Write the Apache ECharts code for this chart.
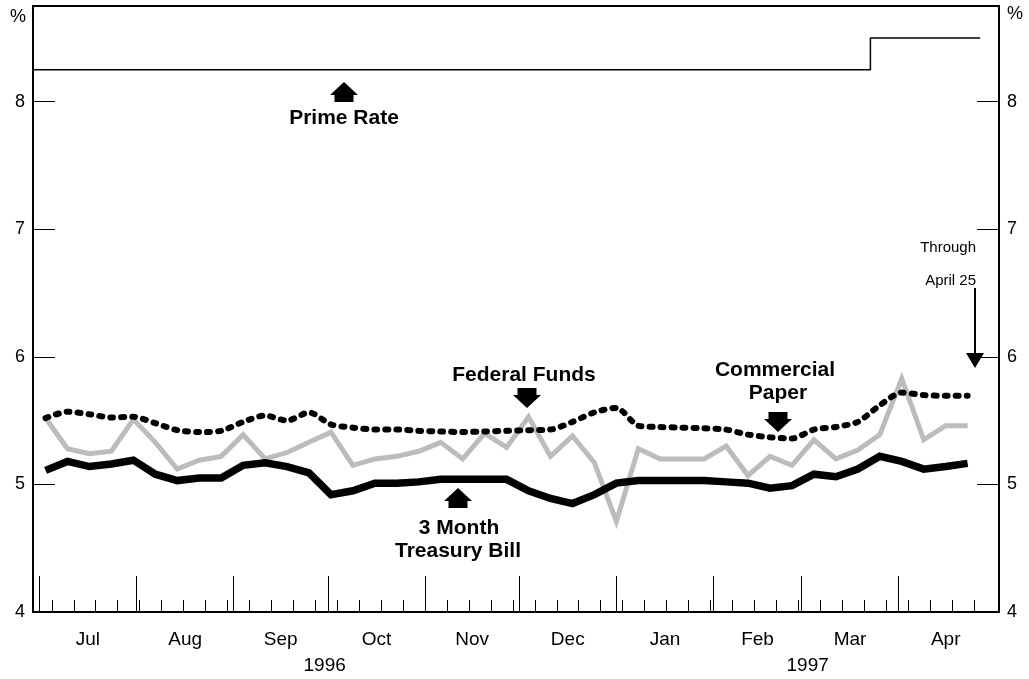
<!DOCTYPE html>
<html>
<head>
<meta charset="utf-8">
<script src="https://cdn.jsdelivr.net/npm/echarts@6/dist/echarts.min.js"></script>
<style>
html,body{margin:0;padding:0;background:#fff;}
#chart{width:1029px;height:679px;}
</style>
</head>
<body>
<div id="chart"></div>
<script>
// ---- Data (weekly averages, weeks ending Wednesday) ----
const dates = [
  '1996-07-03','1996-07-10','1996-07-17','1996-07-24','1996-07-31',
  '1996-08-07','1996-08-14','1996-08-21','1996-08-28',
  '1996-09-04','1996-09-11','1996-09-18','1996-09-25',
  '1996-10-02','1996-10-09','1996-10-16','1996-10-23','1996-10-30',
  '1996-11-06','1996-11-13','1996-11-20','1996-11-27',
  '1996-12-04','1996-12-11','1996-12-18','1996-12-25',
  '1997-01-01','1997-01-08','1997-01-15','1997-01-22','1997-01-29',
  '1997-02-05','1997-02-12','1997-02-19','1997-02-26',
  '1997-03-05','1997-03-12','1997-03-19','1997-03-26',
  '1997-04-02','1997-04-09','1997-04-16','1997-04-23'
];
const treasuryBill = [5.11,5.18,5.14,5.16,5.19,5.08,5.03,5.05,5.05,5.15,5.17,5.14,5.09,4.92,4.95,5.01,5.01,5.02,5.04,5.04,5.04,5.04,4.95,4.89,4.85,4.92,5.01,5.03,5.03,5.03,5.03,5.02,5.01,4.97,4.99,5.08,5.06,5.12,5.22,5.18,5.12,5.14,5.165];
const federalFunds = [5.52,5.28,5.24,5.26,5.51,5.33,5.12,5.19,5.22,5.39,5.20,5.25,5.33,5.41,5.15,5.20,5.22,5.26,5.33,5.20,5.40,5.29,5.53,5.22,5.38,5.17,4.71,5.28,5.20,5.20,5.20,5.30,5.07,5.22,5.15,5.35,5.20,5.27,5.39,5.83,5.35,5.46,5.46];
const commercialPaper = [5.52,5.57,5.55,5.525,5.53,5.48,5.425,5.41,5.42,5.49,5.54,5.50,5.565,5.47,5.445,5.43,5.43,5.42,5.415,5.41,5.415,5.42,5.425,5.43,5.49,5.565,5.60,5.46,5.45,5.445,5.44,5.43,5.39,5.37,5.36,5.43,5.45,5.49,5.62,5.72,5.70,5.695,5.695];
const primeDates = ['1996-06-29','1997-03-23','1997-04-27'];
const primeRate = [8.25, 8.5, 8.5];

// ---- Axis labels / ticks ----
const axisStart = '1996-06-29';
const axisEnd = '1997-05-03';
const monthStarts = ['1996-07-01','1996-08-01','1996-09-01','1996-10-01','1996-11-01','1996-12-01','1997-01-01','1997-02-01','1997-03-01','1997-04-01','1997-05-01'];
const monthNames = ['Jul','Aug','Sep','Oct','Nov','Dec','Jan','Feb','Mar','Apr'];
const yearStarts = ['1997-01-01'];
const yearNames = ['1996','1997'];
const firstFriday = '1996-07-05';
const lastFriday = '1997-04-25';
const yTicks = [4,5,6,7,8];

// ---- Build ----
const T = s => new Date(s + 'T00:00:00Z').getTime();
const DAY = 86400000;
const xMin = T(axisStart), xMax = T(axisEnd);
const FONT = '"Liberation Sans", Arial, Helvetica, sans-serif';

const fridays = [];
for (let t = T(firstFriday); t <= T(lastFriday); t += 7 * DAY) fridays.push(t);

// month boundary ticks (one per labelled month)
const monthTickVals = monthStarts.slice(0, monthNames.length).map(T);
const monthMids = [], monthLabelMap = {};
for (let i = 0; i < monthNames.length; i++) {
  const a = Math.max(T(monthStarts[i]), xMin), b = Math.min(T(monthStarts[i + 1]), xMax);
  const m = (a + b) / 2; monthMids.push(m); monthLabelMap[m] = monthNames[i];
}
const yb = [xMin].concat(yearStarts.map(T)).concat([xMax]);
const yearMids = [], yearLabelMap = {};
for (let i = 0; i < yearNames.length; i++) {
  const m = (yb[i] + yb[i + 1]) / 2; yearMids.push(m); yearLabelMap[m] = yearNames[i];
}

const pts = (ds, vs) => ds.map((d, i) => [T(d), vs[i]]);

const chart = echarts.init(document.getElementById('chart'), null, {renderer: 'canvas'});

const blk = '#000';
const yAxisBase = (pos) => ({
  type: 'value', position: pos, min: 4, max: 8.75,
  axisLine: {show: true, lineStyle: {color: blk, width: 2}},
  axisTick: {show: true, inside: true, length: 22, customValues: yTicks, lineStyle: {color: blk, width: 1}},
  axisLabel: {customValues: yTicks, color: blk, fontSize: 18, fontFamily: FONT, margin: 8},
  splitLine: {show: false}
});

const textEl = (x, y, text, size, weight, align) => ({
  type: 'text', x: x, y: y, z: 100,
  style: {text: text, fill: blk, fontSize: size, fontWeight: weight, fontFamily: FONT,
          align: align || 'center', verticalAlign: 'middle', textAlign: align || 'center', textVerticalAlign: 'middle'}
});
const upArrow = (x, y) => ({type: 'polygon', z: 100, shape: {points: [
  [x, y], [x + 14, y + 13], [x + 9.5, y + 13], [x + 9.5, y + 20], [x - 9.5, y + 20], [x - 9.5, y + 13], [x - 14, y + 13]]},
  style: {fill: blk}});
const downArrow = (x, y) => ({type: 'polygon', z: 100, shape: {points: [
  [x, y], [x + 14, y - 13], [x + 9.5, y - 13], [x + 9.5, y - 20], [x - 9.5, y - 20], [x - 9.5, y - 13], [x - 14, y - 13]]},
  style: {fill: blk}});

const option = {
  backgroundColor: '#fff',
  animation: false,
  grid: {left: 33, right: 30, top: 6, bottom: 67, containLabel: false, outerBoundsMode: 'none'},
  xAxis: [
    {
      type: 'value', position: 'bottom', min: xMin, max: xMax,
      axisLine: {show: true, lineStyle: {color: blk, width: 2}},
      axisTick: {show: true, inside: true, length: 12, customValues: fridays, lineStyle: {color: blk, width: 1}},
      axisLabel: {customValues: monthMids, formatter: v => monthLabelMap[v] || '', color: blk, fontSize: 19, fontFamily: FONT, margin: 18},
      splitLine: {show: false}
    },
    {
      type: 'value', position: 'bottom', min: xMin, max: xMax,
      axisLine: {show: false},
      axisTick: {show: true, inside: true, length: 36, customValues: monthTickVals, lineStyle: {color: blk, width: 1}},
      axisLabel: {customValues: yearMids, formatter: v => yearLabelMap[v] || '', color: blk, fontSize: 19, fontFamily: FONT, margin: 44},
      splitLine: {show: false}
    },
    {
      type: 'value', position: 'top', min: xMin, max: xMax,
      axisLine: {show: true, lineStyle: {color: blk, width: 2}},
      axisTick: {show: false}, axisLabel: {show: false}, splitLine: {show: false}
    }
  ],
  yAxis: [yAxisBase('left'), yAxisBase('right')],
  series: [
    {name: 'Prime Rate', type: 'line', step: 'end', data: pts(primeDates, primeRate), symbol: 'none',
     lineStyle: {color: blk, width: 1.5}, z: 2},
    {name: 'Federal Funds', type: 'line', data: pts(dates, federalFunds), symbol: 'none',
     lineStyle: {color: '#bcbcbc', width: 5, join: 'miter'}, z: 3},
    {name: '3 Month Treasury Bill', type: 'line', data: pts(dates, treasuryBill), symbol: 'none',
     lineStyle: {color: blk, width: 7.5, join: 'miter', cap: 'butt'}, z: 4},
    {name: 'Commercial Paper', type: 'line', data: pts(dates, commercialPaper), symbol: 'none', smooth: 0.25,
     lineStyle: {color: blk, width: 6, type: [3, 8], cap: 'round'}, z: 5}
  ],
  graphic: [
    textEl(18, 17, '%', 18, 'normal'),
    textEl(1015, 14, '%', 18, 'normal'),
    upArrow(344, 82),
    textEl(344, 118, 'Prime Rate', 21, 'bold'),
    textEl(524, 375, 'Federal Funds', 21, 'bold'),
    downArrow(527, 408),
    textEl(775, 370, 'Commercial', 21, 'bold'),
    textEl(778, 393, 'Paper', 21, 'bold'),
    downArrow(778, 432),
    upArrow(458, 488),
    textEl(459, 528, '3 Month', 21, 'bold'),
    textEl(458, 551, 'Treasury Bill', 21, 'bold'),
    textEl(976, 248, 'Through', 15, 'normal', 'right'),
    textEl(976, 281, 'April 25', 15, 'normal', 'right'),
    {type: 'line', z: 100, shape: {x1: 975, y1: 288, x2: 975, y2: 356}, style: {stroke: blk, lineWidth: 2}},
    {type: 'polygon', z: 100, shape: {points: [[966, 353], [984, 353], [975, 368]]}, style: {fill: blk}}
  ]
};
chart.setOption(option);
</script>
</body>
</html>
